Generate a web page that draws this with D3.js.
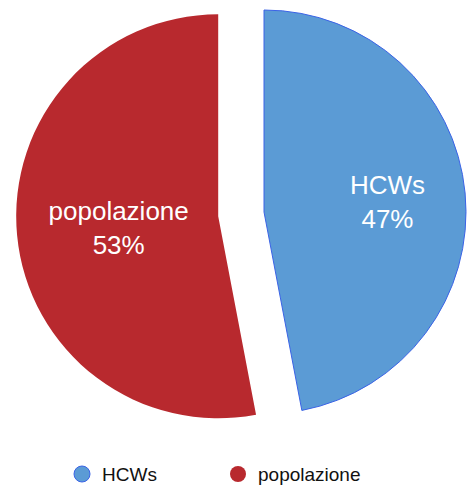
<!DOCTYPE html>
<html>
<head>
<meta charset="utf-8">
<script src="https://cdn.jsdelivr.net/npm/d3@7"></script>
<style>
  html, body { margin: 0; padding: 0; background: #fff; }
  svg { display: block; font-family: "Liberation Sans", Arial, Helvetica, sans-serif; }
</style>
</head>
<body>
<svg id="chart" width="468" height="486"></svg>
<script>
// Share of cases: healthcare workers vs general population
const categories = ["HCWs", "popolazione"];
const values = [47, 53];
const percentLabels = ["47%", "53%"];
const colors = ["#5b9bd5", "#b8292e"];
const strokes = ["#3b63e6", "none"];

const svg = d3.select("#chart");
const cx = 264, cy = 212, radius = 202;
const explode = [0, 46];          // outward shift of each slice
const labelDist = [124, 100];      // distance of the inside label from the slice apex

const pie = d3.pie().sort(null).value(d => d)(values);
const arc = d3.arc().innerRadius(0).outerRadius(radius);

const g = svg.append("g").attr("transform", `translate(${cx},${cy})`);

const slices = g.selectAll("g.slice")
  .data(pie)
  .join("g")
  .attr("class", "slice")
  .attr("transform", (d, i) => {
    const a = (d.startAngle + d.endAngle) / 2;
    return `translate(${Math.sin(a) * explode[i]},${-Math.cos(a) * explode[i]})`;
  });

slices.append("path")
  .attr("d", arc)
  .attr("fill", (d, i) => colors[i])
  .attr("stroke", (d, i) => strokes[i])
  .attr("stroke-width", 1);

const labels = slices.append("text")
  .attr("fill", "#fff")
  .attr("font-size", 26)
  .attr("text-anchor", "middle")
  .attr("transform", (d, i) => {
    const a = (d.startAngle + d.endAngle) / 2;
    return `translate(${Math.sin(a) * labelDist[i]},${-Math.cos(a) * labelDist[i]})`;
  });
labels.append("tspan").attr("x", 0).attr("y", -6).text((d, i) => categories[i]);
labels.append("tspan").attr("x", 0).attr("y", 28).text((d, i) => percentLabels[i]);

// Legend
const legendX = [82, 238];
const legend = svg.append("g").attr("transform", "translate(0,474)");
const items = legend.selectAll("g").data(categories).join("g")
  .attr("transform", (d, i) => `translate(${legendX[i]},0)`);
items.append("circle")
  .attr("r", 8)
  .attr("fill", (d, i) => colors[i])
  .attr("stroke", (d, i) => strokes[i])
  .attr("stroke-width", 1);
items.append("text")
  .attr("x", 20)
  .attr("dy", "0.35em")
  .attr("font-size", 19)
  .attr("fill", "#111")
  .text(d => d);
</script>
</body>
</html>
